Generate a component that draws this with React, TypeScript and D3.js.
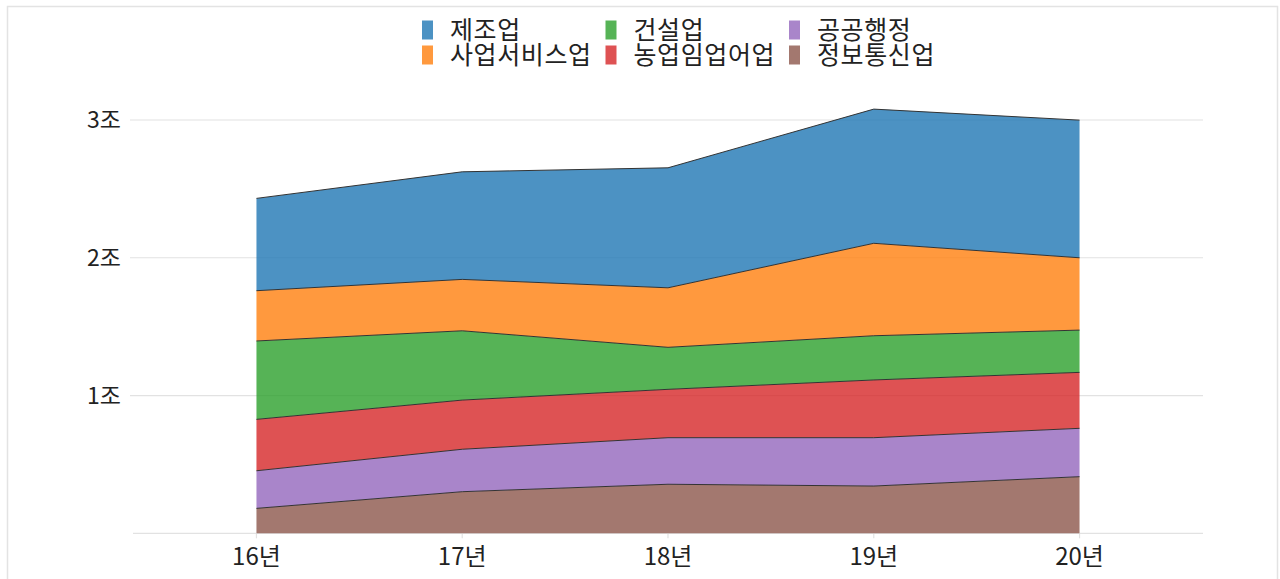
import React from "react";
import * as d3 from "d3";

const years = ["16년", "17년", "18년", "19년", "20년"];
// stack order, bottom to top (values in 조)
const seriesNames = ["정보통신업", "공공행정", "농업임업어업", "건설업", "사업서비스업", "제조업"];
const 정보통신업 = [0.181, 0.302, 0.356, 0.343, 0.411];
const 공공행정 = [0.273, 0.308, 0.338, 0.351, 0.351];
const 농업임업어업 = [0.373, 0.357, 0.351, 0.419, 0.406];
const 건설업 = [0.569, 0.503, 0.305, 0.321, 0.307];
const 사업서비스업 = [0.365, 0.373, 0.432, 0.671, 0.525];
const 제조업 = [0.67, 0.781, 0.871, 0.974, 0.999];
const seriesValues = [정보통신업, 공공행정, 농업임업어업, 건설업, 사업서비스업, 제조업];
const seriesColors = ["#8c564b", "#9467bd", "#d62728", "#2ca02c", "#ff7f0e", "#1f77b4"];
const legendOrder = ["제조업", "건설업", "공공행정", "사업서비스업", "농업임업어업", "정보통신업"];
const yTicks = [1, 2, 3];
const yTickLabels = ["1조", "2조", "3조"];

const W = 1280;
const H = 579;
const FONT = "'Noto Sans CJK KR', 'Noto Sans', sans-serif";

export default function App() {
  const x = d3.scalePoint<string>().domain(years).range([133, 1203]).padding(0.6);
  const y = d3.scaleLinear().domain([0, 3]).range([533.3, 120]);

  const table = years.map((yr, i) => {
    const row: any = { year: yr };
    seriesNames.forEach((n, k) => (row[n] = seriesValues[k][i]));
    return row;
  });
  const stack = d3.stack<any>().keys(seriesNames)(table);

  const area = d3
    .area<any>()
    .x((d) => x(d.data.year) as number)
    .y0((d) => y(d[0]))
    .y1((d) => y(d[1]));
  const line = d3
    .line<any>()
    .x((d) => x(d.data.year) as number)
    .y((d) => y(d[1]));

  const [r0, r1] = x.range();

  return (
    <div style={{ position: "absolute", left: 0, top: 0, width: W, height: H, overflow: "hidden" }}>
      <svg width={W} height={H} style={{ display: "block", fontFamily: FONT }}>
        <rect x={0} y={0} width={W} height={H} fill="#ffffff" />
        <rect x={7.5} y={6.5} width={1270} height={620} fill="none" stroke="#e3e3e3" strokeWidth={1.5} />
        {/* gridlines */}
        {yTicks.map((t) => (
          <line key={t} x1={130} x2={r1} y1={y(t)} y2={y(t)} stroke="#e2e2e2" strokeWidth={1.2} />
        ))}
        {/* baseline */}
        <line x1={r0} x2={r1} y1={y(0)} y2={y(0)} stroke="#e2e2e2" strokeWidth={1.2} />
        {years.map((yr) => (
          <line key={yr} x1={x(yr)} x2={x(yr)} y1={y(0)} y2={y(0) + 5} stroke="#e2e2e2" strokeWidth={1.2} />
        ))}
        {/* areas */}
        {stack.map((s, k) => (
          <path key={seriesNames[k]} d={area(s) as string} fill={seriesColors[k]} fillOpacity={0.8} />
        ))}
        {stack.map((s, k) => (
          <path key={seriesNames[k] + "l"} d={line(s) as string} fill="none" stroke="#333" strokeWidth={1} />
        ))}
        {/* y labels */}
        {yTicks.map((t, i) => (
          <text key={t} x={121} y={y(t)} dy="0.36em" textAnchor="end" fontSize={23} fill="#222">
            {yTickLabels[i]}
          </text>
        ))}
        {/* x labels */}
        {years.map((yr) => (
          <text key={yr} x={x(yr)} y={565} textAnchor="middle" fontSize={24} fill="#222">
            {yr}
          </text>
        ))}
        {/* legend */}
        {legendOrder.map((n, i) => {
          const col = i % 3;
          const row = Math.floor(i / 3);
          const lx = 422 + col * 183.5;
          const ty = 38.5 + row * 25;
          const c = seriesColors[seriesNames.indexOf(n)];
          return (
            <g key={n}>
              <rect x={lx} y={ty - 18} width={11} height={19} fill={c} fillOpacity={0.8} />
              <text x={lx + 28} y={ty} fontSize={25} letterSpacing={0.6} fill="#222">
                {n}
              </text>
            </g>
          );
        })}
      </svg>
    </div>
  );
}
